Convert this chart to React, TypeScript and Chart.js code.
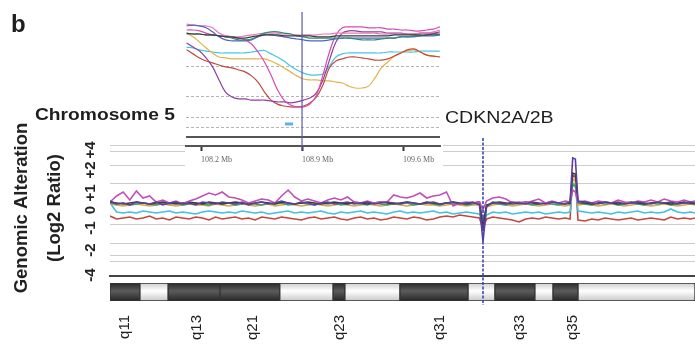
import React, { useEffect, useRef } from "react";
import { Chart, registerables } from "chart.js";
Chart.register(...registerables);

const SANS = "'Liberation Sans', Arial, sans-serif";
const SERIF = "'Liberation Serif', 'DejaVu Serif', serif";

// ---------- main chromosome-5 profile (x in Mb, y in log2 ratio display units) ----------
const POS_MB = [
  48.0, 49.5, 51.0, 52.5, 54.0, 55.5, 57.0, 58.5, 60.0, 61.5,
  63.0, 64.5, 66.0, 67.5, 69.0, 70.5, 72.0, 73.5, 75.0, 76.5,
  78.0, 79.5, 81.0, 82.5, 84.0, 85.5, 87.0, 88.5, 90.0, 91.5,
  93.0, 94.5, 96.0, 97.5, 99.0, 100.5, 102.0, 103.5, 105.0, 106.5,
  108.0, 109.5, 111.0, 112.5, 114.0, 115.5, 117.0, 118.5, 120.0, 121.5,
  123.0, 124.5, 126.0, 127.5, 129.0, 130.5, 132.0, 132.8, 133.6, 135.0,
  136.5, 138.0, 139.5, 141.0, 142.5, 144.0, 145.5, 147.0, 148.5, 150.0,
  151.5, 152.6, 153.2, 153.8, 154.4, 156.0, 157.5, 159.0, 160.5, 162.0,
  163.5, 165.0, 166.5, 168.0, 169.5, 171.0, 172.5, 174.0, 175.5, 177.0,
  178.5, 180.0, 181.0,
];

const MAGENTA = [
  0.05, 0.35, 0.55, 0.15, 0.6, 0.25, 0.35, 0.05, 0.15, 0,
  0.1, -0.05, 0.1, 0.2, 0.35, 0.5, 0.4, 0.55, 0.3, 0.25,
  0.15, 0, 0.1, 0.2, 0.15, 0, 0.35, 0.65, 0.3, 0.1,
  0.2, 0.1, 0, 0.15, 0.25, 0.15, 0.3, 0.05, 0, 0.1,
  0, 0.05, 0.05, 0.4, 0.3, 0.25, 0.35, 0.5, 0.25, 0.35,
  0.4, 0.55, -0.15, 0, 0.05, 0, 0.05, -0.35, 0.1, 0.25,
  0.3, 0.2, 0, 0.05, 0, 0.1, 0.2, 0, 0.1, 0,
  0.1, 0.05, 0.65, 0.55, 0.05, 0.1, 0, 0.1, 0.05, 0,
  0.15, 0.05, 0, 0.1, 0.05, 0.15, 0.05, 0.2, 0.1, 0.05,
  0.15, 0.05, 0.1,
];
const PURPLE = [
  0.1, -0.05, 0, -0.1, 0.05, 0, -0.05, 0.05, -0.1, 0,
  0.05, -0.05, 0, -0.1, 0.05, 0, -0.05, 0.05, 0, -0.05,
  0.05, -0.1, 0, 0.05, -0.05, 0, 0.1, 0, -0.05, 0.05,
  0, -0.1, 0, 0.05, -0.05, 0, 0.05, -0.05, 0, 0.05,
  -0.05, 0, 0.05, 0, -0.05, 0.05, 0, -0.05, 0, 0.05,
  -0.05, 0, 0.05, -0.05, 0, 0.05, -0.1, -1.95, -0.2, 0.05,
  0, -0.05, 0.05, 0, -0.05, 0.05, 0, -0.05, 0.05, 0,
  -0.05, 0.05, 2.25, 2.2, 0.1, 0.05, 0, -0.05, 0.05, 0,
  0.05, -0.05, 0, 0.05, 0, -0.05, 0.05, 0, 0.05, -0.05,
  0, 0.05, 0,
];
const CYAN = [
  0, -0.45, -0.5, -0.45, -0.5, -0.4, -0.45, -0.5, -0.45, -0.4,
  -0.5, -0.45, -0.5, -0.55, -0.45, -0.4, -0.45, -0.5, -0.45, -0.5,
  -0.4, -0.45, -0.5, -0.45, -0.55, -0.5, -0.45, -0.4, -0.5, -0.45,
  -0.5, -0.45, -0.4, -0.5, -0.55, -0.45, -0.5, -0.45, -0.4, -0.5,
  -0.45, -0.5, -0.55, -0.45, -0.4, -0.5, -0.45, -0.5, -0.45, -0.4,
  -0.5, -0.45, -0.55, -0.5, -0.45, -0.5, -0.55, -1.0, -0.6, -0.45,
  -0.5, -0.45, -0.55, -0.5, -0.45, -0.5, -0.45, -0.55, -0.5, -0.45,
  -0.5, -0.45, 1.0, 0.9, -0.4, -0.45, -0.5, -0.45, -0.5, -0.55,
  -0.45, -0.5, -0.45, -0.4, -0.5, -0.45, -0.5, -0.45, -0.3, -0.45,
  -0.5, -0.45, -0.5,
];
const RED = [
  -0.65, -0.8, -0.75, -0.7, -0.8, -0.75, -0.65, -0.8, -0.75, -0.85,
  -0.7, -0.75, -0.8, -0.7, -0.75, -0.85, -0.7, -0.8, -0.75, -0.7,
  -0.8, -0.75, -0.85, -0.7, -0.75, -0.8, -0.7, -0.75, -0.8, -0.85,
  -0.75, -0.7, -0.8, -0.75, -0.7, -0.8, -0.85, -0.75, -0.7, -0.8,
  -0.75, -0.85, -0.8, -0.7, -0.75, -0.8, -0.7, -0.75, -0.85, -0.8,
  -0.7, -0.65, -0.7, -0.6, -0.65, -0.7, -0.75, -1.3, -0.8, -0.7,
  -0.75, -0.8, -0.85, -0.95, -0.8, -0.75, -0.8, -0.7, -0.75, -0.8,
  -0.75, -0.8, 1.4, 1.3, -0.85, -0.9, -0.8, -0.85, -0.75, -0.8,
  -0.85, -0.8, -0.75, -0.85, -0.8, -0.75, -0.8, -0.85, -0.7, -0.8,
  -0.75, -0.8, -0.75,
];
const ORANGE = [
  -0.05, -0.1, -0.15, -0.1, -0.05, -0.1, -0.15, -0.1, -0.05, -0.1,
  -0.15, -0.1, -0.05, -0.1, -0.1, -0.15, -0.05, -0.1, -0.15, -0.1,
  -0.05, -0.1, -0.15, -0.1, -0.05, -0.15, -0.1, -0.05, -0.1, -0.15,
  -0.1, -0.05, -0.1, -0.15, -0.1, -0.05, -0.1, -0.15, -0.1, -0.05,
  -0.1, -0.15, -0.1, -0.05, -0.1, -0.15, -0.1, -0.05, -0.1, -0.1,
  -0.15, -0.1, -0.05, -0.1, -0.15, -0.1, -0.1, -1.1, -0.2, -0.1,
  -0.05, -0.1, -0.15, -0.1, -0.05, -0.1, -0.15, -0.1, -0.05, -0.1,
  -0.15, -0.1, 1.2, 1.1, -0.1, -0.05, -0.1, -0.15, -0.1, -0.05,
  -0.1, -0.15, -0.1, -0.05, -0.1, -0.15, -0.1, -0.05, -0.1, -0.15,
  -0.1, -0.05, -0.1,
];
const GREEN = [
  0, -0.05, 0, -0.1, -0.05, 0, -0.05, -0.1, 0, -0.05,
  0, -0.1, -0.05, 0, -0.05, -0.1, 0, -0.05, 0, -0.1,
  -0.05, 0, -0.05, -0.1, 0, -0.05, 0, -0.1, -0.05, 0,
  -0.05, -0.1, 0, -0.05, 0, -0.1, -0.05, 0, -0.05, -0.1,
  0, -0.05, -0.1, 0, -0.05, 0, -0.1, -0.05, 0, -0.05,
  -0.1, 0, -0.05, 0, -0.1, -0.05, 0, -1.0, -0.15, 0,
  -0.05, -0.1, 0, -0.05, 0, -0.1, -0.05, 0, -0.05, -0.1,
  0, -0.05, 0.9, 0.85, 0, -0.05, -0.1, 0, -0.05, 0,
  -0.1, -0.05, 0, -0.05, -0.1, 0, -0.05, 0, -0.1, -0.05,
  0, -0.05, 0,
];
const BLACK = [
  0.05, 0, -0.05, 0, 0.05, 0, -0.05, 0, 0.05, 0,
  -0.05, 0, 0.05, 0, -0.05, 0.05, 0, -0.05, 0, 0.05,
  0, -0.05, 0, 0.05, 0, -0.05, 0.05, 0, -0.05, 0,
  0.05, 0, -0.05, 0, 0.05, 0, -0.05, 0.05, 0, -0.05,
  0, 0.05, 0, -0.05, 0, 0.05, 0, -0.05, 0.05, 0,
  -0.05, 0, 0.05, 0, -0.05, 0, 0.05, -1.2, -0.1, 0,
  0.05, 0, -0.05, 0, 0.05, 0, -0.05, 0, 0.05, 0,
  -0.05, 0, 1.5, 1.45, 0.05, 0, -0.05, 0, 0.05, 0,
  -0.05, 0, 0.05, 0, -0.05, 0, 0.05, 0, -0.05, 0,
  0.05, 0, -0.05,
];

const MAIN_SERIES_NAMES = ["purple", "magenta", "black", "green", "orange", "cyan", "red"];
const MAIN_SERIES_VALUES = [PURPLE, MAGENTA, BLACK, GREEN, ORANGE, CYAN, RED];
const MAIN_SERIES_COLORS = ["#5b3f9e", "#c24fb8", "#3a3a3a", "#3d9a72", "#d9aa45", "#41c1e2", "#c4473f"];

const X_MIN = 48;
const X_MAX = 181;
const Y_MIN = -3.65;
const Y_MAX = 3.15;
const Y_TICK_AT = [-3.6, -2.35, -1.25, -0.35, 0.5, 1.65, 2.65];
const Y_TICK_LABELS = ["-4", "-2", "-1", "0", "+1", "+2", "+4"];
const Y_GRID_AT = [-2.9, -2.6, -2.0, -1.05, 1.0, 1.9, 2.6, 2.9];
const LOCUS_MB = 132.8;
const LOCUS_SPAN = [3.25, -5.1];

// ---------- ideogram ----------
const BAND_START = [48.0, 54.8, 61.2, 73.0, 86.6, 98.7, 101.4, 113.9, 129.4, 135.5, 144.6, 148.7, 154.4];
const BAND_END = [54.8, 61.2, 73.0, 86.6, 98.7, 101.4, 113.9, 129.4, 135.5, 144.6, 148.7, 154.4, 181.0];
const BAND_STAIN = ["dark", "light", "dark", "dark", "light", "dark", "light", "dark", "light", "dark", "light", "dark", "light"];
const BAND_LABELS = ["q11", "q13", "q21", "q23", "q31", "q33", "q35"];
const BAND_LABEL_AT = [51.4, 67.8, 80.5, 100.3, 123.0, 141.2, 153.3];

// ---------- inset (zoom on the CDKN2A/2B locus) ----------
const INSET_POS = [
  108.100, 108.145, 108.190, 108.235, 108.280, 108.325, 108.370, 108.415, 108.460, 108.505,
  108.550, 108.595, 108.640, 108.685, 108.730, 108.775, 108.820, 108.865, 108.910, 108.955,
  109.000, 109.045, 109.090, 109.135, 109.180, 109.225, 109.270, 109.315, 109.360, 109.405,
  109.450, 109.495, 109.540, 109.585, 109.630, 109.675, 109.720, 109.765, 109.810, 109.855,
];
const IN_CYAN = [
  -0.39, -0.42, -0.48, -0.52, -0.55, -0.58, -0.58, -0.58, -0.58, -0.58,
  -0.55, -0.52, -0.5, -0.61, -0.71, -0.84, -1.0, -1.13, -1.23, -1.29,
  -1.29, -1.26, -1.0, -0.71, -0.61, -0.58, -0.58, -0.58, -0.58, -0.58,
  -0.58, -0.55, -0.55, -0.55, -0.55, -0.55, -0.52, -0.52, -0.52, -0.52,
];
const IN_ORANGE = [
  0.06, -0.06, -0.23, -0.42, -0.58, -0.71, -0.74, -0.77, -0.77, -0.77,
  -0.77, -0.77, -0.77, -0.84, -0.94, -1.06, -1.19, -1.32, -1.42, -1.45,
  -1.45, -1.48, -1.48, -1.52, -1.55, -1.65, -1.71, -1.71, -1.65, -1.39,
  -1.06, -0.87, -0.68, -0.58, -0.52, -0.48, -0.55, -0.65, -0.68, -0.71,
];
const IN_RED = [
  -0.48, -0.61, -0.74, -0.84, -0.9, -0.97, -1.03, -1.06, -1.13, -1.19,
  -1.32, -1.52, -1.84, -2.1, -2.23, -2.29, -2.32, -2.32, -2.29, -2.19,
  -2.0, -1.61, -1.06, -0.84, -0.77, -0.71, -0.71, -0.74, -0.77, -0.81,
  -0.81, -0.77, -0.68, -0.58, -0.48, -0.45, -0.55, -0.65, -0.68, -0.71,
];
const IN_PURPLE = [
  -0.26, -0.39, -0.52, -0.74, -1.03, -1.45, -1.84, -2.0, -2.06, -2.06,
  -2.1, -2.1, -2.1, -2.13, -2.16, -2.16, -2.19, -2.16, -2.1, -2.03,
  -1.87, -1.45, -0.81, -0.23, 0.06, 0.13, 0.13, 0.1, 0.1, 0.1,
  0.1, 0.06, 0.06, 0.06, 0.03, 0.03, 0.06, 0.06, 0.06, 0.1,
];
const IN_MAGENTA = [
  0.16, 0.16, 0.13, 0.06, 0, -0.03, -0.03, -0.06, -0.1, -0.16,
  -0.29, -0.55, -0.87, -1.29, -1.77, -2.1, -2.26, -2.32, -2.32, -2.23,
  -1.94, -1.29, -0.55, 0, 0.23, 0.26, 0.26, 0.26, 0.23, 0.23,
  0.23, 0.19, 0.19, 0.16, 0.16, 0.13, 0.13, 0.16, 0.19, 0.26,
];
const IN_BLACK = [
  0.06, 0.03, 0.03, 0, 0, -0.03, -0.06, -0.06, -0.1, -0.1,
  -0.06, -0.03, 0, 0, 0, -0.03, -0.03, -0.03, -0.03, -0.03,
  -0.06, -0.06, -0.06, -0.03, -0.03, -0.03, -0.03, -0.03, -0.03, -0.03,
  -0.03, -0.03, 0, 0, 0, 0, 0, 0, 0.03, 0.03,
];
const IN_TEAL = [
  0.03, 0.03, 0.03, 0, 0, -0.03, -0.06, -0.1, -0.16, -0.16,
  -0.13, -0.03, 0.06, 0.1, 0.1, 0.06, 0.03, -0.03, -0.06, -0.1,
  -0.1, -0.1, -0.1, -0.1, -0.1, -0.1, -0.13, -0.16, -0.16, -0.16,
  -0.13, -0.1, -0.1, -0.06, -0.06, -0.03, -0.03, 0, 0, 0,
];
const IN_BLUE = [
  0.29, 0.32, 0.29, 0.23, 0.1, -0.06, -0.16, -0.19, -0.19, -0.19,
  -0.16, -0.06, 0, 0, -0.03, -0.06, -0.1, -0.13, -0.16, -0.19,
  -0.19, -0.19, -0.16, -0.13, -0.1, -0.1, -0.1, -0.1, -0.1, -0.1,
  -0.1, -0.1, -0.1, -0.06, -0.06, -0.06, -0.03, -0.03, -0.03, 0,
];
const IN_PINK = [
  0.35, 0.32, 0.29, 0.29, 0.23, 0.06, -0.03, -0.06, -0.06, -0.03,
  0, 0.03, 0.06, 0.06, 0.06, 0.03, 0.03, 0, 0, 0,
  0, 0.03, 0.03, 0.06, 0.06, 0.06, 0.06, 0.06, 0.06, 0.06,
  0.03, 0.03, 0.03, 0.03, 0.03, 0.03, 0.06, 0.06, 0.1, 0.16,
];
const INSET_VALUES = [IN_BLACK, IN_TEAL, IN_BLUE, IN_PINK, IN_MAGENTA, IN_PURPLE, IN_RED, IN_ORANGE, IN_CYAN];
const INSET_COLORS = ["#3c3c3c", "#2f8c74", "#5162c4", "#e877b4", "#d54bb6", "#8f3f9f", "#c24a3c", "#e6b14b", "#45c6e6"];

const INSET_X_MIN = 108.096;
const INSET_X_MAX = 109.856;
const INSET_Y_MIN = -3.58;
const INSET_Y_MAX = 0.74;
const INSET_X_TICKS = [108.2, 108.9, 109.6];
const INSET_X_LABELS = ["108.2 Mb", "108.9 Mb", "109.6 Mb"];
const INSET_DASH_GRID = [-2.97, -2.65, -1.97, -1.03];
const INSET_SOLID_GRID = [-3.29];
const INSET_LOCUS_MB = 108.9;
const INSET_LOCUS_SPAN = [0.74, -3.71];
const GENE_SPAN_MB = [108.782, 108.838];
const GENE_LEVEL = -2.87;

const toXY = (xs: number[], ys: number[]) => xs.map((x, i) => ({ x, y: ys[i] }));

function bandFill(stain: string) {
  return (ctx: any) => {
    const chart = ctx.chart;
    const area = chart.chartArea;
    if (!area) return stain === "dark" ? "#444" : "#eee";
    const g = chart.ctx.createLinearGradient(0, area.top, 0, area.bottom);
    if (stain === "dark") {
      g.addColorStop(0, "#2a2a2a");
      g.addColorStop(0.45, "#5c5c5c");
      g.addColorStop(1, "#262626");
    } else {
      g.addColorStop(0, "#cfcfcf");
      g.addColorStop(0.45, "#ffffff");
      g.addColorStop(1, "#c8c8c8");
    }
    return g;
  };
}

export default function App() {
  const mainRef = useRef<HTMLCanvasElement>(null);
  const ideoRef = useRef<HTMLCanvasElement>(null);
  const insetRef = useRef<HTMLCanvasElement>(null);

  useEffect(() => {
    const charts: Chart[] = [];

    // ideogram
    charts.push(
      new Chart(ideoRef.current!, {
        type: "bar",
        data: {
          labels: ["5q"],
          datasets: BAND_START.map((s, i) => ({
            label: "band " + i,
            data: [[s, BAND_END[i]]] as any,
            backgroundColor: bandFill(BAND_STAIN[i]) as any,
            borderColor: "#333",
            borderWidth: 1,
            borderSkipped: false,
            grouped: false,
            barPercentage: 1,
            categoryPercentage: 1,
          })),
        },
        options: {
          indexAxis: "y",
          responsive: false,
          animation: false,
          layout: { padding: 0 },
          plugins: { legend: { display: false }, tooltip: { enabled: false } },
          scales: {
            y: { display: false },
            x: {
              type: "linear",
              min: X_MIN,
              max: X_MAX,
              afterBuildTicks: (s: any) => {
                s.ticks = BAND_LABEL_AT.map((v) => ({ value: v }));
              },
              afterFit: (s: any) => {
                s.height = 47;
              },
              ticks: {
                autoSkip: false,
                minRotation: 90,
                maxRotation: 90,
                padding: 14,
                color: "#222",
                font: { family: SANS, size: 15 },
                callback: (_v: any, i: number) => BAND_LABELS[i],
              },
              grid: { display: false, drawTicks: false },
              border: { display: false },
            },
          },
        } as any,
      })
    );

    // main profile
    const mainDatasets: any[] = [
      {
        label: "CDKN2A/2B",
        data: [
          { x: LOCUS_MB, y: LOCUS_SPAN[0] },
          { x: LOCUS_MB, y: LOCUS_SPAN[1] },
        ],
        borderColor: "#3b48b8",
        borderWidth: 1.6,
        borderDash: [3, 1.5],
        clip: false,
        pointRadius: 0,
      },
      ...MAIN_SERIES_VALUES.map((vals, i) => ({
        label: MAIN_SERIES_NAMES[i],
        data: toXY(POS_MB, vals),
        borderColor: MAIN_SERIES_COLORS[i],
        borderWidth: 1.6,
        pointRadius: 0,
        tension: 0,
      })),
    ];
    charts.push(
      new Chart(mainRef.current!, {
        type: "line",
        data: { datasets: mainDatasets },
        options: {
          responsive: false,
          animation: false,
          layout: { padding: { top: 140, bottom: 72, left: 0, right: 0 } },
          plugins: { legend: { display: false }, tooltip: { enabled: false } },
          scales: {
            x: {
              type: "linear",
              min: X_MIN,
              max: X_MAX,
              ticks: { display: false },
              grid: { display: false, drawTicks: false },
              border: { display: true, color: "#444", width: 2 },
              afterFit: (s: any) => {
                s.height = 0;
              },
            },
            y: {
              type: "linear",
              position: "left",
              min: Y_MIN,
              max: Y_MAX,
              afterBuildTicks: (s: any) => {
                s.ticks = Y_TICK_AT.map((v) => ({ value: v }));
              },
              afterFit: (s: any) => {
                s.width = 110;
              },
              ticks: {
                autoSkip: false,
                minRotation: 90,
                maxRotation: 90,
                crossAlign: "center",
                padding: 11,
                color: "#222",
                font: { family: SANS, size: 15, weight: "bold" },
                callback: (_v: any, i: number) => Y_TICK_LABELS[i],
              },
              grid: { display: false, drawTicks: false },
              border: { display: false },
              title: {
                display: true,
                text: ["Genomic Alteration", "(Log2 Ratio)"],
                color: "#222",
                font: { family: SANS, size: 18.5, weight: "bold", lineHeight: "33px" },
                padding: { top: 5, bottom: 0 },
              },
            },
            yGrid: {
              type: "linear",
              position: "right",
              min: Y_MIN,
              max: Y_MAX,
              afterBuildTicks: (s: any) => {
                s.ticks = Y_GRID_AT.map((v) => ({ value: v }));
              },
              afterFit: (s: any) => {
                s.width = 0;
              },
              ticks: { display: false },
              grid: { color: "#cdcdcd", lineWidth: 1, drawTicks: false },
              border: { display: false },
            },
          },
        } as any,
      })
    );

    // inset
    const insetDatasets: any[] = [
      {
        label: "locus",
        data: [
          { x: INSET_LOCUS_MB, y: INSET_LOCUS_SPAN[0] },
          { x: INSET_LOCUS_MB, y: INSET_LOCUS_SPAN[1] },
        ],
        borderColor: "#5a5aa6",
        borderWidth: 1.2,
        pointRadius: 0,
        clip: false,
      },
      {
        label: "gene",
        data: [
          { x: GENE_SPAN_MB[0], y: GENE_LEVEL },
          { x: GENE_SPAN_MB[1], y: GENE_LEVEL },
        ],
        borderColor: "#5fb2e4",
        borderWidth: 3,
        pointRadius: 0,
      },
      ...INSET_VALUES.map((vals, i) => ({
        label: "inset " + i,
        data: toXY(INSET_POS, vals),
        borderColor: INSET_COLORS[i],
        borderWidth: 1.2,
        pointRadius: 0,
        tension: 0.4,
      })),
    ];
    charts.push(
      new Chart(insetRef.current!, {
        type: "line",
        data: { datasets: insetDatasets },
        options: {
          responsive: false,
          animation: false,
          layout: { padding: { left: 1, right: 3, top: 4, bottom: 0 } },
          plugins: { legend: { display: false }, tooltip: { enabled: false } },
          scales: {
            x: {
              type: "linear",
              min: INSET_X_MIN,
              max: INSET_X_MAX,
              afterBuildTicks: (s: any) => {
                s.ticks = INSET_X_TICKS.map((v) => ({ value: v }));
              },
              afterFit: (s: any) => {
                s.height = 24;
              },
              ticks: {
                autoSkip: false,
                maxRotation: 0,
                align: "start",
                padding: 4,
                color: "#666",
                font: { family: SERIF, size: 8 },
                callback: (_v: any, i: number) => INSET_X_LABELS[i],
              },
              grid: {
                display: true,
                drawOnChartArea: false,
                drawTicks: true,
                tickLength: 5,
                tickColor: "#333",
                tickWidth: 2,
              },
              border: { display: true, color: "#555", width: 2 },
            },
            y: {
              type: "linear",
              position: "left",
              min: INSET_Y_MIN,
              max: INSET_Y_MAX,
              afterBuildTicks: (s: any) => {
                s.ticks = INSET_DASH_GRID.map((v) => ({ value: v }));
              },
              afterFit: (s: any) => {
                s.width = 0;
              },
              ticks: { display: false },
              grid: { color: "#b5b5b5", lineWidth: 1, drawTicks: false },
              border: { display: false, dash: [3, 2] },
            },
            ys: {
              type: "linear",
              position: "left",
              min: INSET_Y_MIN,
              max: INSET_Y_MAX,
              afterBuildTicks: (s: any) => {
                s.ticks = INSET_SOLID_GRID.map((v) => ({ value: v }));
              },
              afterFit: (s: any) => {
                s.width = 0;
              },
              ticks: { display: false },
              grid: { color: "#555", lineWidth: 2, drawTicks: false },
              border: { display: false },
            },
          },
        } as any,
      })
    );

    return () => charts.forEach((c) => c.destroy());
  }, []);

  const text = (extra: React.CSSProperties): React.CSSProperties => ({
    position: "absolute",
    fontFamily: SANS,
    color: "#1e1e1e",
    lineHeight: 1,
    whiteSpace: "nowrap",
    ...extra,
  });

  return (
    <div
      style={{
        position: "absolute",
        left: 0,
        top: 0,
        width: 695,
        height: 348,
        background: "#fff",
        overflow: "hidden",
      }}
    >
      <canvas ref={ideoRef} width={585} height={65} style={{ position: "absolute", left: 110, top: 283 }} />
      <canvas ref={mainRef} width={695} height={348} style={{ position: "absolute", left: 0, top: 0 }} />
      <canvas
        ref={insetRef}
        width={258}
        height={162}
        style={{ position: "absolute", left: 185, top: 8, background: "#fff" }}
      />
      <div style={text({ left: 11, top: 12, fontSize: 24, fontWeight: "bold" })}>b</div>
      <div
        style={text({
          left: 35,
          top: 106,
          fontSize: 17,
          fontWeight: "bold",
          transform: "scaleX(1.13)",
          transformOrigin: "left top",
        })}
      >
        Chromosome 5
      </div>
      <div
        style={text({
          left: 445,
          top: 109,
          fontSize: 17,
          transform: "scaleX(1.15)",
          transformOrigin: "left top",
        })}
      >
        CDKN2A/2B
      </div>
    </div>
  );
}
